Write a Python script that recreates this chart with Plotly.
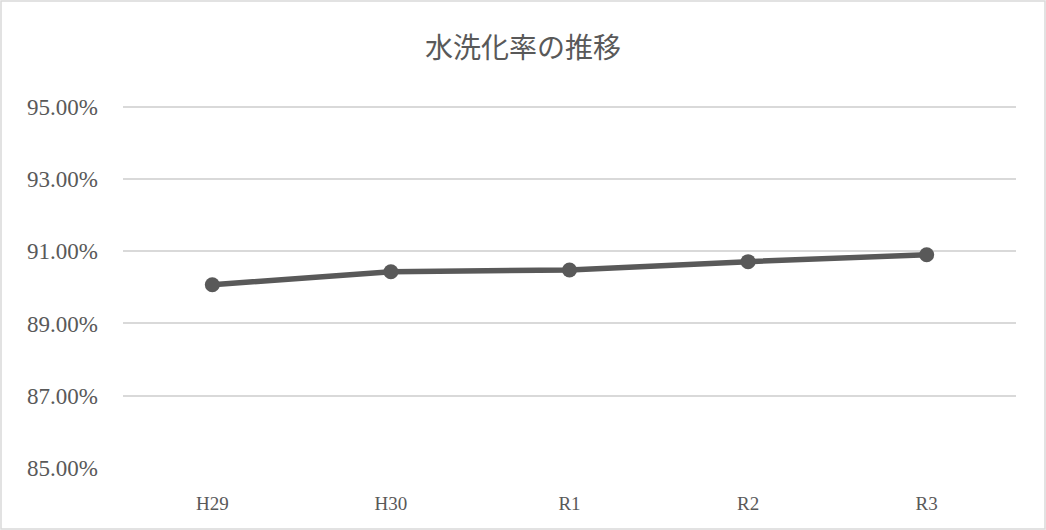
import plotly.graph_objects as go

years = ["H29", "H30", "R1", "R2", "R3"]
rates = [90.07, 90.43, 90.48, 90.71, 90.90]
y_ticks = [85, 87, 89, 91, 93, 95]
y_tick_labels = ["85.00%", "87.00%", "89.00%", "91.00%", "93.00%", "95.00%"]

W, H = 1046, 530
ML, MR, MT, MB = 123, 30, 103, 62
pw, ph = W - ML - MR, H - MT - MB

FONT = "Liberation Serif, Noto Sans CJK JP, serif"
GREY = "#595959"

fig = go.Figure(
    go.Scatter(
        x=years,
        y=rates,
        mode="lines+markers",
        line=dict(color=GREY, width=5.5),
        marker=dict(color=GREY, size=15),
        hoverinfo="x+y",
    )
)


def px_to_paper(x, y):
    return (x - ML) / pw, (H - MB - y) / ph


x0, y0 = px_to_paper(1, 529)
x1, y1 = px_to_paper(1045, 1)

fig.update_layout(
    width=W,
    height=H,
    margin=dict(l=ML, r=MR, t=MT, b=MB),
    paper_bgcolor="white",
    plot_bgcolor="white",
    showlegend=False,
    font=dict(family=FONT, color=GREY),
    title=dict(
        text="水洗化率の推移",
        x=0.5,
        xref="container",
        xanchor="center",
        y=1 - 48 / H,
        yref="container",
        yanchor="middle",
        font=dict(size=28, family=FONT, color=GREY),
    ),
    xaxis=dict(
        type="category",
        range=[-0.5, 4.5],
        showgrid=False,
        showline=False,
        zeroline=False,
        ticks="",
        ticklabelstandoff=22,
        tickfont=dict(size=19, family=FONT, color=GREY),
    ),
    yaxis=dict(
        range=[85, 95.1],
        tickvals=y_ticks,
        ticktext=y_tick_labels,
        showgrid=True,
        gridcolor="#d9d9d9",
        gridwidth=1.5,
        zeroline=False,
        showline=False,
        ticks="",
        ticklabelstandoff=24,
        tickfont=dict(size=23, family=FONT, color=GREY),
    ),
    shapes=[
        dict(
            type="rect",
            xref="paper",
            yref="paper",
            x0=x0,
            y0=y0,
            x1=x1,
            y1=y1,
            line=dict(color="#d9d9d9", width=1.5),
            layer="below",
        )
    ],
)

fig.write_html("out.html")
